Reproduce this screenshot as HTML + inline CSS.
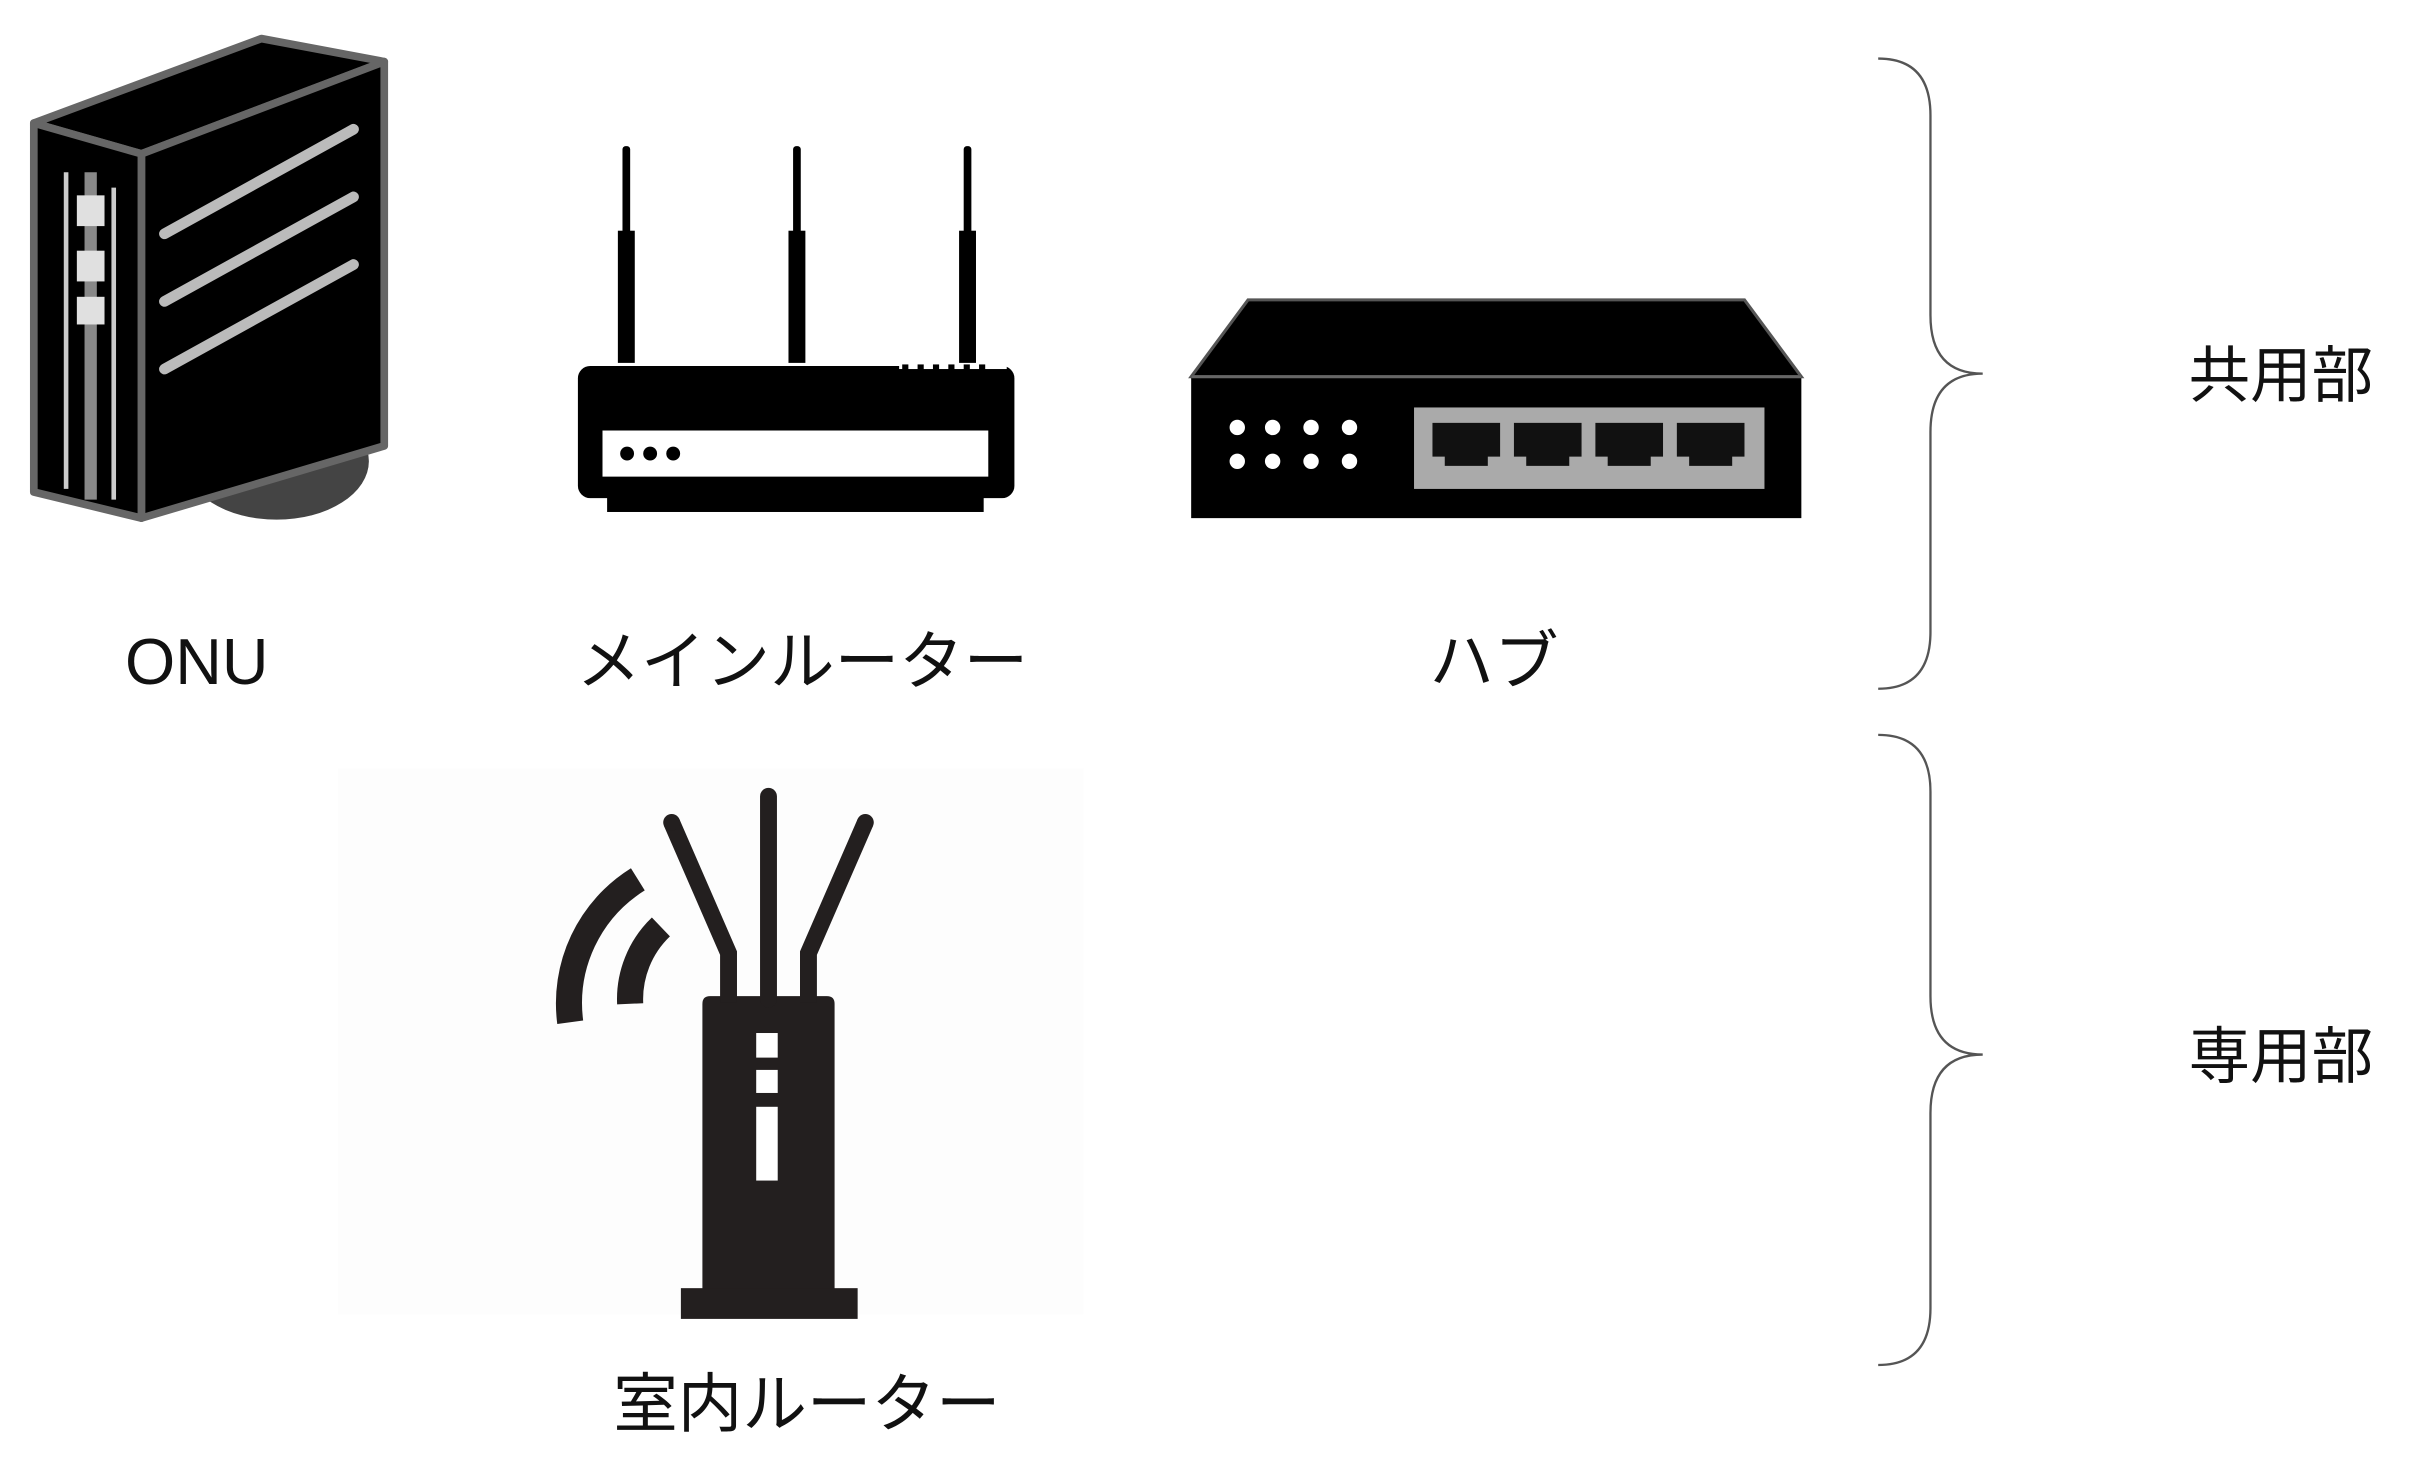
<!DOCTYPE html>
<html><head><meta charset="utf-8"><style>
html,body{margin:0;padding:0;background:#fff;}
svg{display:block;}
text{font-family:"Liberation Sans","Noto Sans CJK JP",sans-serif;fill:#111;}
</style></head><body>
<svg width="2410" height="1462" viewBox="0 0 1568 951" xmlns="http://www.w3.org/2000/svg">
<rect width="1568" height="951" fill="#fff"/>
<!-- ONU -->
<ellipse cx="180" cy="300" rx="60" ry="38" fill="#444"/>
<polygon points="22,80 170,25 250,40 92,100" fill="#000" stroke="#666" stroke-width="5" stroke-linejoin="round"/>
<polygon points="92,100 250,40 250,290 92,337" fill="#000" stroke="#666" stroke-width="5" stroke-linejoin="round"/>
<polygon points="22,80 92,100 92,337 22,320" fill="#000" stroke="#666" stroke-width="5" stroke-linejoin="round"/>
<g stroke="#bbb" stroke-width="7" stroke-linecap="round">
<line x1="107" y1="152" x2="230" y2="84"/>
<line x1="107" y1="196" x2="230" y2="128"/>
<line x1="107" y1="240" x2="230" y2="172"/>
</g>
<g stroke="#ccc" stroke-width="3"><line x1="43" y1="112" x2="43" y2="318"/><line x1="74" y1="122" x2="74" y2="325"/></g>
<line x1="59" y1="112" x2="59" y2="325" stroke="#888" stroke-width="8"/>
<g fill="#e0e0e0"><rect x="50" y="127" width="18" height="20"/><rect x="50" y="163" width="18" height="20"/><rect x="50" y="193" width="18" height="18"/></g>
<!-- Main router -->
<g fill="#000">
<rect x="405" y="95" width="5" height="60" rx="2"/><rect x="402" y="150" width="11" height="86"/>
<rect x="516" y="95" width="5" height="60" rx="2"/><rect x="513" y="150" width="11" height="86"/>
<rect x="627" y="95" width="5" height="60" rx="2"/><rect x="624" y="150" width="11" height="86"/>
<rect x="376" y="238" width="284" height="86" rx="8"/>
<rect x="395" y="320" width="245" height="13"/>
</g>
<g fill="#fff"><rect x="585" y="237" width="70" height="3"/></g>
<g fill="#000"><rect x="587" y="237" width="4" height="5"/><rect x="597" y="237" width="4" height="5"/><rect x="607" y="237" width="4" height="5"/><rect x="617" y="237" width="4" height="5"/><rect x="627" y="237" width="4" height="5"/><rect x="637" y="237" width="4" height="5"/></g>
<rect x="392" y="280" width="251" height="30" fill="#fff"/>
<g fill="#000"><circle cx="408" cy="295" r="4.5"/><circle cx="423" cy="295" r="4.5"/><circle cx="438" cy="295" r="4.5"/></g>
<!-- Hub -->
<polygon points="775,245 812,195 1135,195 1172,245" fill="#000" stroke="#555" stroke-width="2"/>
<rect x="775" y="244" width="397" height="93" fill="#000"/>
<line x1="775" y1="245" x2="1172" y2="245" stroke="#666" stroke-width="2"/>
<g fill="#fff"><circle cx="805" cy="278" r="5"/><circle cx="828" cy="278" r="5"/><circle cx="853" cy="278" r="5"/><circle cx="878" cy="278" r="5"/>
<circle cx="805" cy="300" r="5"/><circle cx="828" cy="300" r="5"/><circle cx="853" cy="300" r="5"/><circle cx="878" cy="300" r="5"/></g>
<rect x="920" y="265" width="228" height="53" fill="#aaa"/>
<g fill="#111">
<path d="M932,275h44v22h-8v6h-28v-6h-8z"/>
<path d="M985,275h44v22h-8v6h-28v-6h-8z"/>
<path d="M1038,275h44v22h-8v6h-28v-6h-8z"/>
<path d="M1091,275h44v22h-8v6h-28v-6h-8z"/>
</g>
<!-- labels -->
<text x="128" y="445" font-size="42" text-anchor="middle">ONU</text>
<text x="522" y="445" font-size="42" text-anchor="middle">メインルーター</text>
<text x="972" y="445" font-size="42" text-anchor="middle">ハブ</text>
<text x="1484" y="258" font-size="40" text-anchor="middle">共用部</text>
<text x="1484" y="701" font-size="40" text-anchor="middle">専用部</text>
<text x="525" y="928" font-size="42" text-anchor="middle">室内ルーター</text>
<!-- braces -->
<g fill="none" stroke="#555" stroke-width="1.5">
<path d="M1222,38 Q1256,38 1256,75 L1256,205 Q1256,243 1290,243 Q1256,243 1256,281 L1256,411 Q1256,448 1222,448"/>
<path d="M1222,478 Q1256,478 1256,515 L1256,648 Q1256,686 1290,686 Q1256,686 1256,724 L1256,851 Q1256,888 1222,888"/>
</g>
<!-- room router -->
<rect x="220" y="500" width="485" height="355" fill="#fdfdfd"/>
<g fill="#231f1f">
<path d="M462,648 h76 q5,0 5,5 v192 h-86 v-192 q0,-5 5,-5z"/>
<rect x="443" y="838" width="115" height="20"/>
</g>
<g stroke="#231f1f" stroke-width="11" stroke-linecap="round" fill="none">
<line x1="500" y1="518" x2="500" y2="650"/>
</g>
<g stroke="#231f1f" stroke-width="11" fill="none" stroke-linejoin="miter">
<path d="M437,535 L474,620 L474,652" stroke-linecap="butt"/>
<path d="M563,535 L526,620 L526,652" stroke-linecap="butt"/>
</g>
<g fill="#231f1f"><circle cx="437" cy="535" r="5.5"/><circle cx="563" cy="535" r="5.5"/></g>
<g fill="#fff"><rect x="492" y="672" width="14" height="16"/><rect x="492" y="696" width="14" height="15"/><rect x="492" y="720" width="14" height="48"/></g>
<g stroke="#231f1f" stroke-width="17" fill="none">
<path d="M371,665 A95,95 0 0 1 415,572"/>
<path d="M410,653 A65,65 0 0 1 430,603"/>
</g>
</svg>
</body></html>
